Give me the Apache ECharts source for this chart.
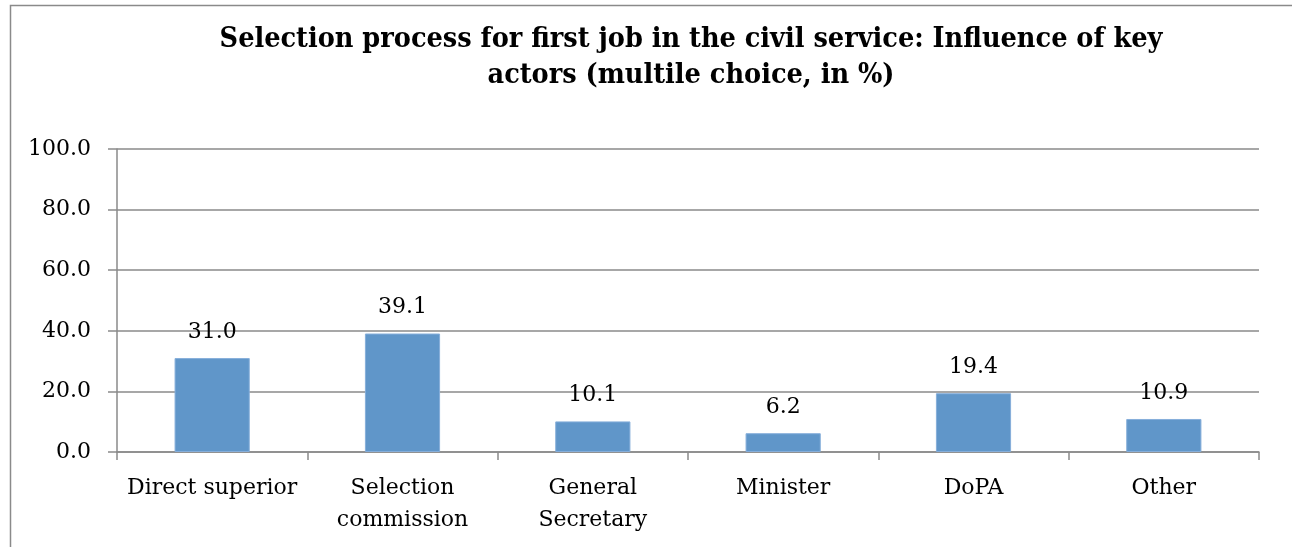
<!DOCTYPE html>
<html>
<head>
<meta charset="utf-8">
<script src="https://cdn.jsdelivr.net/npm/echarts@6/dist/echarts.min.js"></script>
<style>
html,body{margin:0;padding:0;background:#fff;}
#c{width:1292px;height:547px;}
</style>
</head>
<body>
<div id="c"></div>
<script>
const categories = ['Direct superior', 'Selection\ncommission', 'General\nSecretary', 'Minister', 'DoPA', 'Other'];
const values = [31.0, 39.1, 10.1, 6.2, 19.4, 10.9];
const yTicks = [0, 20, 40, 60, 80, 100];
const titleText = 'Selection process for first job in the civil service: Influence of key\nactors (multile choice, in %)';

const serif = "'DejaVu Serif Condensed', 'DejaVu Serif', serif";
const chart = echarts.init(document.getElementById('c'), null, {renderer: 'canvas'});
chart.setOption({
  animation: false,
  backgroundColor: '#fff',
  graphic: [{
    type: 'rect',
    shape: {x: 10.5, y: 5.5, width: 1400, height: 700},
    style: {fill: 'none', stroke: '#8a8a8a', lineWidth: 1.5},
    silent: true, z: -1
  }],
  title: {
    text: titleText,
    left: 686,
    top: 17,
    textAlign: 'center',
    textStyle: {fontFamily: serif, fontWeight: 'bold', fontSize: 28.5, lineHeight: 36, color: '#000'}
  },
  grid: {left: 117, right: 33, top: 149, bottom: 95},
  xAxis: {
    type: 'category',
    data: categories,
    axisLine: {lineStyle: {color: '#8a8a8a', width: 1.5}},
    axisTick: {show: true, length: 8, alignWithLabel: false, lineStyle: {color: '#8a8a8a', width: 1.5}},
    axisLabel: {fontFamily: "'DejaVu Serif', serif", fontSize: 22, color: '#000', lineHeight: 32, margin: 20, interval: 0}
  },
  yAxis: {
    type: 'value',
    min: yTicks[0],
    max: yTicks[yTicks.length - 1],
    interval: 20,
    axisLine: {show: true, lineStyle: {color: '#8a8a8a', width: 1.5}},
    axisTick: {show: true, length: 9, lineStyle: {color: '#8a8a8a', width: 1.5}},
    splitLine: {lineStyle: {color: '#8a8a8a', width: 1.5}},
    axisLabel: {fontFamily: "'DejaVu Serif', serif", fontSize: 22, color: '#000', margin: 26,
      formatter: v => v.toFixed(1)}
  },
  series: [{
    type: 'bar',
    data: values,
    barWidth: '39.5%',
    itemStyle: {color: '#6096C9', borderColor: '#86AEDA', borderWidth: 1},
    label: {show: true, position: 'top', distance: 15, fontFamily: "'DejaVu Serif', serif", fontSize: 22, color: '#000',
      formatter: p => p.value.toFixed(1)}
  }]
});
</script>
</body>
</html>
